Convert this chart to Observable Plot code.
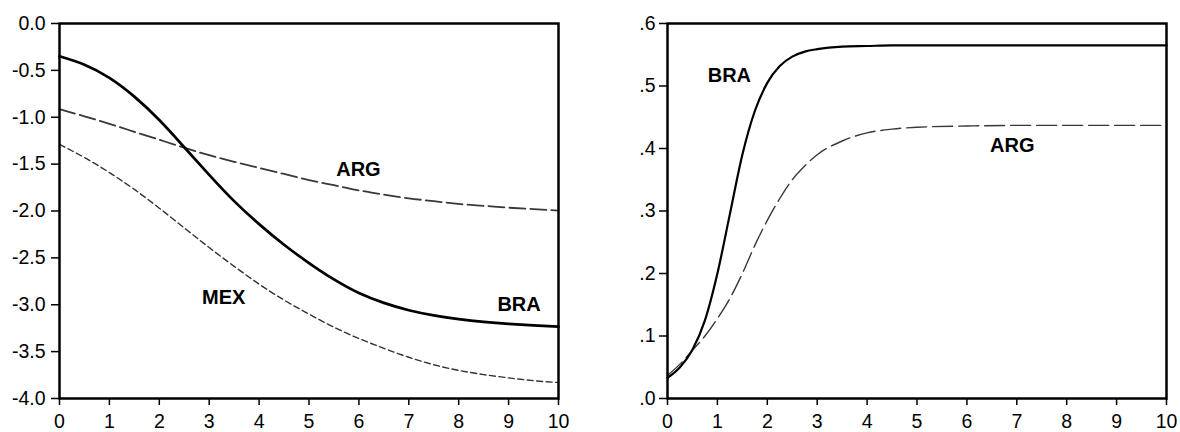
<!DOCTYPE html>
<html><head><meta charset="utf-8">
<script src="https://cdn.jsdelivr.net/npm/d3@7"></script>
<script src="https://cdn.jsdelivr.net/npm/@observablehq/plot@0.6"></script>
<style>
body{margin:0;background:#fff}
#wrap{display:flex;width:1180px;height:432px}
</style>
</head><body><div id="wrap"></div>
<script>
// Left panel
const leftX = [0,0.5,1,1.5,2,2.5,3,3.5,4,4.5,5,5.5,6,6.5,7,7.5,8,8.5,9,9.5,10];
const braLeft = [-0.35,-0.44,-0.58,-0.78,-1.03,-1.32,-1.615,-1.895,-2.14,-2.36,-2.555,-2.73,-2.875,-2.98,-3.058,-3.113,-3.153,-3.183,-3.205,-3.221,-3.233];
const argLeft = [-0.915,-0.99,-1.07,-1.155,-1.24,-1.325,-1.405,-1.475,-1.54,-1.605,-1.67,-1.725,-1.78,-1.825,-1.865,-1.895,-1.925,-1.945,-1.965,-1.98,-1.995];
const mexLeft = [-1.29,-1.43,-1.59,-1.77,-1.97,-2.18,-2.39,-2.59,-2.78,-2.95,-3.10,-3.24,-3.36,-3.465,-3.56,-3.64,-3.70,-3.745,-3.78,-3.81,-3.83];
// Right panel
const rightX = [0,0.25,0.5,0.75,1,1.25,1.5,1.75,2,2.25,2.5,2.75,3,3.5,4,4.5,5,6,7,8,9,10];
const braRight = [0.033,0.05,0.078,0.125,0.20,0.295,0.39,0.46,0.505,0.532,0.547,0.555,0.559,0.563,0.564,0.565,0.565,0.565,0.565,0.565,0.565,0.565];
const argRight = [0.037,0.055,0.077,0.10,0.128,0.16,0.20,0.245,0.285,0.32,0.35,0.372,0.39,0.412,0.425,0.431,0.434,0.436,0.437,0.437,0.437,0.437];
// Ticks
const xTicks = [0,1,2,3,4,5,6,7,8,9,10];
const leftYTicks = [0,-0.5,-1,-1.5,-2,-2.5,-3,-3.5,-4];
const rightYTicks = [0,0.1,0.2,0.3,0.4,0.5,0.6];
// Series labels
const leftLabels = [
  {name:"ARG", x:5.99, y:-1.553},
  {name:"BRA", x:9.21, y:-2.995},
  {name:"MEX", x:3.29, y:-2.926}
];
const rightLabels = [
  {name:"BRA", x:1.24, y:0.516},
  {name:"ARG", x:6.91, y:0.405}
];

const font = "'Liberation Sans', Arial, Helvetica, sans-serif";
const leftTable = leftX.map((x,i)=>({x, bra:braLeft[i], arg:argLeft[i], mex:mexLeft[i]}));
const rightTable = rightX.map((x,i)=>({x, bra:braRight[i], arg:argRight[i]}));

const left = Plot.plot({
  width: 590, height: 432,
  marginLeft: 59, marginRight: 32, marginTop: 23, marginBottom: 34,
  style: {fontFamily: font, background: "white", color: "black"},
  x: {domain: [0,10]},
  y: {domain: [-4,0]},
  marks: [
    Plot.line(leftTable, {x:"x", y:"mex", stroke:"#333", strokeWidth:1.4, strokeDasharray:"6,3.5", curve:"natural"}),
    Plot.line(leftTable, {x:"x", y:"arg", stroke:"#383838", strokeWidth:1.8, strokeDasharray:"16,5", curve:"natural"}),
    Plot.line(leftTable, {x:"x", y:"bra", stroke:"black", strokeWidth:2.7, curve:"natural"}),
    Plot.text(leftLabels, {x:"x", y:"y", text:"name", fontSize:20, fontWeight:"bold", fill:"black"}),
    Plot.axisY(leftYTicks, {tickSize:8, tickPadding:6, fontSize:19.5, strokeWidth:1.5, label:null, tickFormat: d => d.toFixed(1)}),
    Plot.axisX(xTicks, {tickSize:7, tickPadding:9, fontSize:19.5, strokeWidth:1.5, label:null, tickFormat: d => String(d)}),
    Plot.frame({stroke:"black", strokeWidth:2.5})
  ]
});

const right = Plot.plot({
  width: 590, height: 432,
  marginLeft: 77, marginRight: 14, marginTop: 23, marginBottom: 34,
  style: {fontFamily: font, background: "white", color: "black"},
  x: {domain: [0,10]},
  y: {domain: [0,0.6]},
  marks: [
    Plot.line(rightTable, {x:"x", y:"arg", stroke:"#383838", strokeWidth:1.4, strokeDasharray:"20,6", curve:"monotone-x"}),
    Plot.line(rightTable, {x:"x", y:"bra", stroke:"black", strokeWidth:2.2, curve:"monotone-x"}),
    Plot.text(rightLabels, {x:"x", y:"y", text:"name", fontSize:20, fontWeight:"bold", fill:"black"}),
    Plot.axisY(rightYTicks, {tickSize:8, tickPadding:4, fontSize:19.5, strokeWidth:1.5, label:null, tickFormat: d => d.toFixed(1).replace(/^0/, "")}),
    Plot.axisX(xTicks, {tickSize:7, tickPadding:9, fontSize:19.5, strokeWidth:1.5, label:null, tickFormat: d => String(d)}),
    Plot.frame({stroke:"black", strokeWidth:2.5})
  ]
});

document.getElementById("wrap").append(left, right);
</script>
</body></html>
